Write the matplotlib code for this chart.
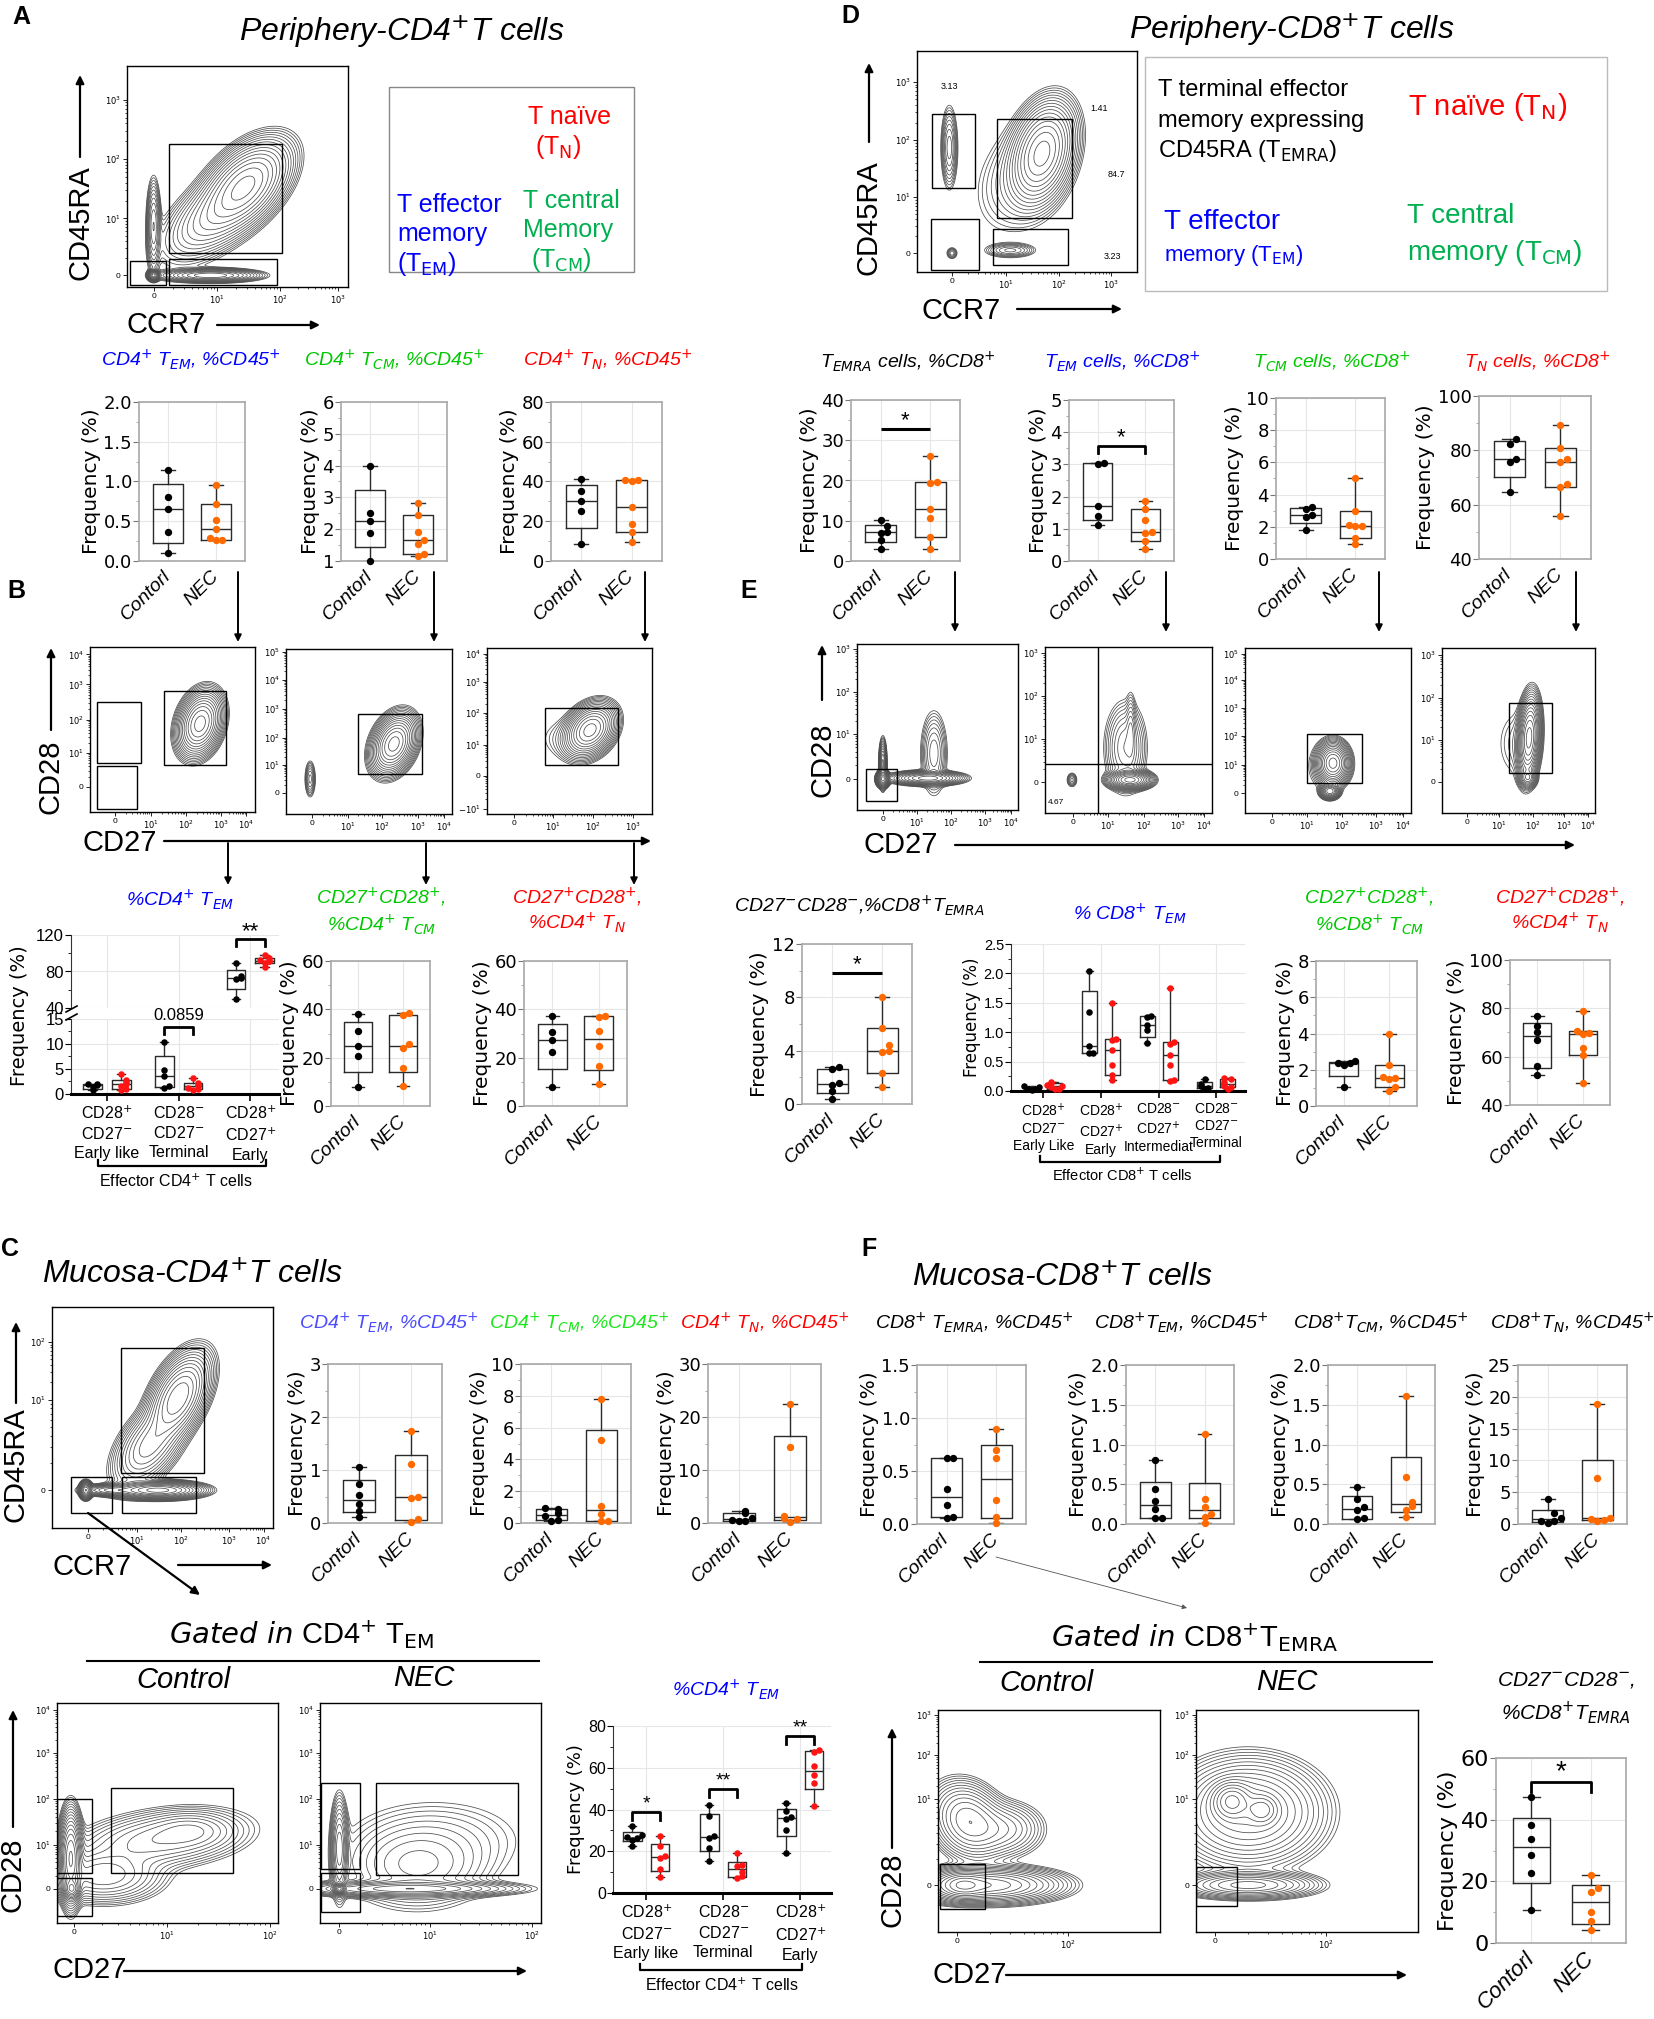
import numpy as np
import matplotlib
matplotlib.use("Agg")
from matplotlib import pyplot as plt
from matplotlib.patches import Rectangle
from matplotlib.ticker import AutoMinorLocator, FixedLocator

plt.rcParams["font.family"] = ["Liberation Sans Narrow", "Liberation Sans", "DejaVu Sans"]
plt.rcParams["mathtext.fontset"] = "custom"
plt.rcParams["mathtext.rm"] = "Liberation Sans Narrow"
plt.rcParams["mathtext.it"] = "Liberation Sans Narrow:italic"
plt.rcParams["mathtext.bf"] = "Liberation Sans Narrow:bold"

RED = "#ff0000"
BLUE = "#0000ff"
GREEN = "#00c800"
LEG_GREEN = "#00b050"
PALE_BLUE = "#4b4bff"
PALE_GREEN = "#1ee61e"
ORANGE = "#ff6a00"
NEC_RED = "#ff1414"
WIDE = ["Liberation Sans", "DejaVu Sans"]
ROUND = ["DejaVu Sans"]

# ---------------- box plot data (frequency, %) ----------------
# A: periphery CD4+, %CD45+
A_TEM_CTRL = [1.14, 0.80, 0.66, 0.36, 0.10]
A_TEM_NEC = [0.95, 0.72, 0.52, 0.40, 0.29, 0.27, 0.26]
A_TCM_CTRL = [3.98, 2.50, 2.26, 1.88, 1.00]
A_TCM_NEC = [2.83, 2.45, 1.90, 1.66, 1.55, 1.22, 1.17]
A_TN_CTRL = [41.4, 35.0, 30.0, 25.0, 8.7]
A_TN_NEC = [41.0, 40.6, 40.2, 27.0, 18.7, 14.8, 9.5]

# B: CD27/CD28 subsets of periphery CD4+
B_GROUP_LABELS = ["CD28$^{+}$\nCD27$^{-}$\nEarly like", "CD28$^{-}$\nCD27$^{-}$\nTerminal",
                  "CD28$^{+}$\nCD27$^{+}$\nEarly"]
B_TEM_CTRL = [[2.0, 1.9, 1.7, 1.3, 0.8], [10.4, 4.8, 3.5, 1.5, 1.1], [89, 75, 73, 72, 50]]
B_TEM_NEC = [[4.0, 2.7, 2.3, 1.9, 1.5, 1.0, 0.8], [3.1, 2.2, 1.8, 1.5, 1.2, 0.9, 0.8],
             [98, 95, 93, 92, 91, 89, 85]]
B_TCM_CTRL = [38.2, 31.1, 24.8, 20.5, 7.9]
B_TCM_NEC = [38.5, 37.6, 25.5, 24.1, 15.8, 8.2]
B_TN_CTRL = [37.4, 30.8, 27.2, 22.5, 7.9]
B_TN_NEC = [37.2, 37.0, 31.0, 24.8, 16.6, 9.0]

# D: periphery CD8+, %CD8+
D_TEMRA_CTRL = [10.2, 8.6, 7.3, 6.9, 5.2, 3.0]
D_TEMRA_NEC = [26.2, 19.7, 19.3, 12.9, 10.7, 6.0, 3.1]
D_TEM_CTRL = [3.04, 3.02, 1.70, 1.40, 1.13]
D_TEM_NEC = [1.85, 1.63, 1.27, 0.89, 0.87, 0.63, 0.36]
D_TCM_CTRL = [3.2, 3.1, 2.74, 2.6, 1.83]
D_TCM_NEC = [5.05, 2.98, 2.12, 2.08, 2.02, 1.30, 0.95]
D_TN_CTRL = [84.1, 82.5, 76.7, 75.7, 64.7]
D_TN_NEC = [89.2, 81.0, 76.7, 75.6, 67.5, 66.5, 55.8]

# E: CD27/CD28 subsets of periphery CD8+
E_TEMRA_CTRL = [2.8, 2.6, 1.6, 1.4, 0.95, 0.4]
E_TEMRA_NEC = [8.0, 5.7, 4.4, 4.0, 3.9, 2.3, 1.3]
E_GROUP_LABELS = ["CD28$^{+}$\nCD27$^{-}$\nEarly Like", "CD28$^{+}$\nCD27$^{+}$\nEarly",
                  "CD28$^{-}$\nCD27$^{+}$\nIntermediat", "CD28$^{-}$\nCD27$^{-}$\nTerminal"]
E_TEM_CTRL = [[0.08, 0.06, 0.04, 0.03, 0.02], [2.04, 1.35, 0.77, 0.65, 0.64],
              [1.28, 1.26, 1.13, 1.03, 0.82], [0.20, 0.12, 0.08, 0.05, 0.04]]
E_TEM_NEC = [[0.16, 0.14, 0.10, 0.08, 0.06, 0.04, 0.03], [1.50, 0.89, 0.86, 0.69, 0.44, 0.28, 0.18],
             [1.75, 0.84, 0.80, 0.61, 0.45, 0.18, 0.17], [0.22, 0.20, 0.15, 0.12, 0.08, 0.06, 0.04]]
E_TCM_CTRL = [2.5, 2.4, 2.36, 2.25, 1.03]
E_TCM_NEC = [3.98, 2.25, 1.62, 1.56, 1.50, 1.05, 0.82]
E_TN_CTRL = [76.8, 72.7, 70.0, 66.8, 56.1, 52.3]
E_TN_NEC = [79.0, 70.5, 69.8, 69.2, 63.4, 60.5, 49.2]

# C: mucosa CD4+, %CD45+
C_TEM_CTRL = [1.05, 0.74, 0.53, 0.35, 0.23, 0.12]
C_TEM_NEC = [1.74, 1.12, 0.50, 0.48, 0.075, 0.01]
C_TCM_CTRL = [0.95, 0.88, 0.60, 0.45, 0.20, 0.15]
C_TCM_NEC = [7.8, 5.2, 1.09, 0.55, 0.12, 0.10]
C_TN_CTRL = [2.2, 1.9, 1.0, 0.5, 0.3, 0.3]
C_TN_NEC = [22.4, 14.3, 1.26, 0.94, 0.75, 0.12]
C_GROUP_LABELS = ["CD28$^{+}$\nCD27$^{-}$\nEarly like", "CD28$^{-}$\nCD27$^{-}$\nTerminal",
                  "CD28$^{+}$\nCD27$^{+}$\nEarly"]
C_SUB_CTRL = [[32.3, 27.9, 26.8, 26.3, 25.5, 22.3], [42.2, 36.7, 27.5, 26.5, 21.5, 15.1],
              [43.0, 39.5, 36.5, 35.3, 30.3, 19.1]]
C_SUB_NEC = [[27.1, 22.3, 17.5, 16.9, 11.5, 7.5], [19.1, 13.5, 12.7, 9.9, 8.0, 7.2],
             [68.5, 67.7, 60.6, 56.6, 52.6, 41.8]]

# F: mucosa CD8+, %CD45+
F_TEMRA_CTRL = [0.62, 0.62, 0.33, 0.18, 0.07, 0.06]
F_TEMRA_NEC = [0.90, 0.70, 0.62, 0.23, 0.07, 0.01]
F_TEM_CTRL = [0.80, 0.44, 0.29, 0.19, 0.08, 0.07]
F_TEM_NEC = [1.13, 0.31, 0.22, 0.12, 0.09, 0.01]
F_TCM_CTRL = [0.46, 0.32, 0.21, 0.17, 0.07, 0.06]
F_TCM_NEC = [1.61, 0.59, 0.28, 0.23, 0.17, 0.09]
F_TN_CTRL = [4.0, 1.7, 0.9, 0.55, 0.4, 0.2]
F_TN_NEC = [18.9, 7.2, 0.95, 0.85, 0.65, 0.5]
F_SUB_CTRL = [47.3, 38.3, 33.6, 28.5, 22.6, 10.6]
F_SUB_NEC = [22.0, 17.7, 16.6, 10.1, 7.0, 4.1]

# ---------------- flow plots (decade units) ----------------
DEC = ["0", "$10^{1}$", "$10^{2}$", "$10^{3}$", "$10^{4}$", "$10^{5}$"]
# blobs: (centre x, centre y, sd x, sd y, correlation, peak)
# gates: (x0, x1, y0, y1)
FA_LIM = ((-0.42, 3.07), (-0.2, 3.6))
FA_XT, FA_YT = [0, 1, 2, 2.91], [0, 0.98, 2.0, 3.02]
FA_BLOBS = [(1.45, 1.55, 0.3, 0.33, 0.5, 1.0), (1.0, 1.05, 0.38, 0.36, 0.6, 0.3),
            (0.0, 0.85, 0.05, 0.35, 0.0, 0.2), (0.9, 0.0, 0.33, 0.05, 0.0, 0.5),
            (0.0, 0.0, 0.04, 0.04, 0.0, 0.8)]
FA_GATES = [(0.24, 2.03, 0.38, 2.26), (-0.38, 0.2, -0.16, 0.24), (0.24, 1.95, -0.17, 0.28)]

FD_LIM = ((-0.66, 3.49), (-0.33, 3.54))
FD_XT, FD_YT = [0, 1.02, 2.02, 3.0], [0, 0.98, 1.98, 3.0]
FD_BLOBS = [(1.7, 1.75, 0.26, 0.38, 0.3, 1.0), (1.35, 1.35, 0.45, 0.5, 0.3, 0.05),
            (-0.05, 1.85, 0.07, 0.32, 0.0, 0.12), (1.1, 0.05, 0.22, 0.06, 0.0, 0.08),
            (0.0, 0.0, 0.05, 0.05, 0.0, 0.05)]
FD_GATES = [(-0.38, 0.43, 1.14, 2.44), (0.85, 2.26, 0.61, 2.35), (-0.4, 0.51, -0.3, 0.6),
            (0.77, 2.19, -0.21, 0.42)]
FD_PCT = [("3.13", -0.04, 2.91), ("1.41", 2.77, 2.54), ("84.7", 3.11, 1.37), ("3.23", 3.02, -0.05)]

FB1_LIM = ((-0.71, 4.0), (-0.74, 4.1))
FB1_XT, FB1_YT = [0, 1.03, 2.03, 3.03, 3.74], [0, 1.0, 1.97, 3.0, 3.88]
FB1_BLOBS = [(2.43, 1.85, 0.27, 0.4, 0.25, 1.0)]
FB1_GATES = [(1.4, 3.17, 0.65, 2.8), (-0.51, 0.74, 0.71, 2.5), (-0.51, 0.63, -0.65, 0.62)]

FB2_LIM = ((-0.74, 4.0), (-0.75, 5.14))
FB2_XT, FB2_YT = [0, 1.03, 2.0, 3.03, 3.77], [0, 1.0, 1.96, 3.0, 4.04, 5.04]
FB2_BLOBS = [(2.34, 1.75, 0.27, 0.45, 0.3, 1.0), (-0.05, 0.5, 0.07, 0.3, 0.0, 0.08)]
FB2_GATES = [(1.31, 3.14, 0.68, 2.82)]

FB3_LIM = ((-0.68, 3.45), (-1.23, 4.13))
FB3_XT, FB3_YT = [0, 0.98, 1.98, 2.98], [-1.06, 0, 1.0, 2.03, 3.03, 3.94]
FB3_BLOBS = [(1.9, 1.48, 0.27, 0.36, 0.3, 1.0), (1.4, 1.2, 0.45, 0.4, 0.0, 0.02)]
FB3_GATES = [(0.78, 2.6, 0.35, 2.19)]

FE1_LIM = ((-0.76, 3.97), (-0.72, 3.14))
FE1_XT, FE1_YT = [0, 1, 2, 3, 3.76], [0, 1.05, 2.02, 3.02]
FE1_BLOBS = [(0.0, 0.0, 0.08, 0.08, 0.0, 1.0), (0.0, 0.35, 0.05, 0.25, 0.0, 0.3),
             (1.3, 0.02, 0.45, 0.07, 0.0, 0.6), (1.5, 0.6, 0.18, 0.45, 0.0, 0.1)]
FE1_GATES = [(-0.5, 0.41, -0.51, 0.23)]

FE2_LIM = ((-0.8, 3.97), (-0.72, 3.14))
FE2_XT, FE2_YT = [0, 1, 2.03, 3, 3.74], [0, 1, 2, 3]
FE2_BLOBS = [(1.63, 0.05, 0.26, 0.09, 0.0, 1.0), (1.5, 0.8, 0.28, 0.5, 0.0, 0.1),
             (1.65, 1.2, 0.07, 0.4, 0.0, 0.06), (-0.03, 0.05, 0.07, 0.08, 0.0, 0.06)]
FE2_QUAD = (0.71, 0.42)

FE3_LIM = ((-0.78, 4.03), (-0.71, 5.18))
FE3_XT, FE3_YT = [0, 1.01, 2.03, 3.01, 3.8], [0, 1, 2.04, 3.04, 4.04, 4.96]
FE3_BLOBS = [(1.77, 1.07, 0.2, 0.32, 0.0, 1.0), (1.68, 0.07, 0.12, 0.12, 0.0, 0.6),
             (1.6, 0.9, 0.35, 0.5, 0.0, 0.02)]
FE3_GATES = [(1.01, 2.61, 0.36, 2.1)]

FE4_LIM = ((-0.78, 4.0), (-0.73, 3.15))
FE4_XT, FE4_YT = [0, 1, 2.06, 3.03, 3.78], [0, 0.99, 1.98, 2.99]
FE4_BLOBS = [(1.94, 1.04, 0.15, 0.42, 0.2, 1.0), (1.9, 0.1, 0.12, 0.1, 0.0, 0.3),
             (1.6, 0.9, 0.4, 0.5, 0.0, 0.02)]
FE4_GATES = [(1.31, 2.66, 0.21, 1.86)]

FC_LIM = ((-0.8, 4.1), (-0.51, 2.47))
FC_XT, FC_YT = [0, 1.09, 2.07, 3.13, 3.89], [0, 1.22, 2.0]
FC_BLOBS = [(2.0, 1.25, 0.3, 0.26, 0.5, 1.0), (1.35, 0.6, 0.35, 0.25, 0.5, 0.35),
            (1.55, 0.0, 0.42, 0.05, 0.0, 1.2), (-0.05, 0.0, 0.06, 0.05, 0.0, 1.0),
            (0.5, 0.0, 0.3, 0.035, 0.0, 0.3)]
FC_GATES = [(0.73, 2.56, 0.23, 1.92), (-0.38, 0.53, -0.31, 0.18), (0.76, 2.4, -0.31, 0.18)]

FCS_YLIM = (-0.76, 4.13)
FCS_YT = [0, 0.98, 2.0, 3.02, 3.98]
FCC_XLIM, FCC_XT = (-0.17, 2.08), [0, 0.95, 2.0]
FCC_BLOBS = [(-0.03, 0.7, 0.05, 0.45, 0.0, 1.0), (-0.02, 0.0, 0.04, 0.1, 0.0, 0.8),
             (0.9, 1.1, 0.42, 0.32, 0.3, 0.15), (1.2, 1.3, 0.2, 0.2, 0.0, 0.08),
             (0.3, 0.3, 0.28, 0.28, 0.0, 0.2)]
FCC_GATES = [(-0.17, 0.19, 0.36, 2.0), (-0.17, 0.19, -0.6, 0.24), (0.38, 1.62, 0.36, 2.24)]
FCN_XLIM, FCN_XT = (-0.2, 2.08), [0, 0.93, 1.99]
FCN_BLOBS = [(0.0, 0.0, 0.03, 0.05, 0.0, 3.0), (0.7, 0.0, 0.5, 0.08, 0.0, 1.0),
             (0.0, 0.9, 0.04, 0.5, 0.0, 0.8), (0.8, 0.5, 0.35, 0.45, 0.0, 0.35),
             (1.0, 1.1, 0.5, 0.5, 0.0, 0.1)]
FCN_GATES = [(-0.19, 0.21, 0.44, 2.36), (-0.19, 0.21, -0.51, 0.36), (0.38, 1.84, 0.31, 2.36)]

FFS_LIM = ((-0.34, 3.66), (-1.09, 4.07))
FFS_XT, FFS_YT = [0, 2.0], [0, 2.0, 3.02, 3.95]
FFC_BLOBS = [(0.2, 1.5, 0.3, 0.4, -0.2, 0.5), (0.8, 1.3, 0.35, 0.3, 0.0, 0.2),
             (0.5, 0.0, 0.6, 0.18, 0.0, 1.0), (0.1, 0.0, 0.2, 0.15, 0.0, 0.8)]
FFC_GATES = [(-0.31, 0.5, -0.56, 0.49)]
FFN_BLOBS = [(0.3, 1.95, 0.18, 0.22, 0.0, 1.0), (0.85, 1.75, 0.15, 0.18, 0.0, 0.7),
             (0.6, 1.7, 0.6, 0.55, 0.0, 0.5), (0.6, 0.0, 0.55, 0.14, 0.0, 0.4)]
FFN_GATES = [(-0.34, 0.4, -0.49, 0.42)]

W, H = 1654, 2019
fig = plt.figure(figsize=(W / 100, H / 100), dpi=100)


def axp(x0, y0, x1, y1):
    return fig.add_axes([x0 / W, 1 - y1 / H, (x1 - x0) / W, (y1 - y0) / H])


def box_stats(values):
    v = np.asarray(values, float)
    q1, med, q3 = np.percentile(v, [25, 50, 75], method="weibull")
    return {"med": med, "q1": q1, "q3": q3, "whislo": v.min(), "whishi": v.max(), "fliers": []}


def dot_offsets(vals, tol, dx):
    vals = np.asarray(vals, float)
    offs = np.zeros(len(vals))
    placed = []
    for i in np.argsort(vals):
        k = sum(1 for j in placed if abs(vals[j] - vals[i]) < tol)
        if k:
            offs[i] = ((k + 1) // 2) * dx * (1 if k % 2 else -1)
        placed.append(i)
    return offs


def draw_boxes(ax, groups, positions, colors, width, tol, dx, dot=28, clip=False):
    line = dict(color="#2a2a2a", linewidth=1.0)
    ax.bxp([box_stats(g) for g in groups], positions=positions, widths=width,
           showfliers=False, capwidths=width * 0.45, manage_ticks=False,
           boxprops=line, medianprops=line, whiskerprops=line, capprops=line)
    for vals, pos, col in zip(groups, positions, colors):
        offs = dot_offsets(vals, tol, dx)
        ax.scatter(pos + offs, vals, s=dot, color=col, zorder=3, linewidths=0, clip_on=clip)


def frame_style(ax, tick_size):
    for s in ax.spines.values():
        s.set_color("#a8a8a8")
        s.set_linewidth(1.2)
    ax.grid(True, color="#e6e6e6", lw=0.8)
    ax.set_axisbelow(True)
    ax.yaxis.set_minor_locator(AutoMinorLocator(2))
    ax.tick_params(axis="y", which="major", length=4, width=0.8, color="#777777",
                   labelsize=tick_size, pad=1)
    ax.tick_params(axis="y", which="minor", length=2, width=0.6, color="#999999")
    ax.tick_params(axis="x", length=0, pad=9)
    for t in ax.get_yticklabels():
        t.set_family(ROUND)


def two_group(rect, ctrl, nec, ylim, yticks, fmt, nec_color=ORANGE, tick_size=13,
              label_size=14.5, xlab_size=14):
    ax = axp(*rect)
    span = ylim[1] - ylim[0]
    draw_boxes(ax, [ctrl, nec], [1.0, 2.0], ["black", nec_color], 0.62, 0.035 * span, 0.13)
    ax.set_xlim(0.4, 2.6)
    ax.set_ylim(*ylim)
    ax.set_yticks(yticks)
    ax.set_yticklabels([fmt.format(t) for t in yticks])
    ax.set_xticks([1, 2])
    ax.set_xticklabels(["Contorl", "NEC"], rotation=45, ha="right", va="center",
                       rotation_mode="anchor", fontstyle="italic", fontsize=xlab_size, family=WIDE)
    ax.set_ylabel("Frequency (%)", family=ROUND, fontsize=label_size, labelpad=2)
    frame_style(ax, tick_size)
    return ax


def grouped(rect, ctrl_groups, nec_groups, ylim, yticks, fmt, xlim, off, width,
            tick_size=11, labels=None, xlab_size=11, clip=False, bottom=True, spacing=1.45,
            label_family=None):
    ax = axp(*rect)
    groups, positions, colors = [], [], []
    for i, (c, n) in enumerate(zip(ctrl_groups, nec_groups)):
        groups += [c, n]
        positions += [i - off, i + off]
        colors += ["black", NEC_RED]
    span = ylim[1] - ylim[0]
    draw_boxes(ax, groups, positions, colors, width, 0.03 * span, 0.065, dot=22, clip=clip)
    ax.set_xlim(*xlim)
    ax.set_ylim(*ylim)
    ax.set_yticks(yticks)
    ax.set_yticklabels([fmt.format(t) for t in yticks])
    ax.grid(True, color="#e6e6e6", lw=0.8)
    ax.set_axisbelow(True)
    ax.spines["top"].set_visible(False)
    ax.spines["right"].set_visible(False)
    ax.spines["left"].set_color("#333333")
    ax.yaxis.set_minor_locator(AutoMinorLocator(2))
    ax.tick_params(axis="y", which="major", length=4, width=0.8, labelsize=tick_size, pad=1)
    ax.tick_params(axis="y", which="minor", length=2, width=0.6)
    if bottom:
        ax.spines["bottom"].set_color("black")
        ax.spines["bottom"].set_linewidth(2.2)
        ax.set_xticks(range(len(ctrl_groups)))
        ax.set_xticklabels(labels, fontsize=xlab_size, linespacing=spacing, va="top")
        if label_family:
            for t in ax.get_xticklabels():
                t.set_family(label_family)
        ax.tick_params(axis="x", length=5, width=1.2, pad=3)
    else:
        ax.spines["bottom"].set_visible(False)
        ax.set_xticks(range(len(ctrl_groups)))
        ax.tick_params(axis="x", length=0, labelbottom=False)
    return ax


def minor_between(ticks):
    out = []
    for a, b in zip(ticks[:-1], ticks[1:]):
        out += [a + np.log10(k) * (b - a) for k in range(2, 10)]
    return out


def flow_plot(rect, xlim, ylim, xticks, yticks, blobs, gates, xlabels=None, ylabels=None):
    ax = axp(*rect)
    X, Y = np.meshgrid(np.linspace(*xlim, 420), np.linspace(*ylim, 420))
    Z = np.zeros_like(X)
    for cx, cy, sx, sy, rho, w in blobs:
        u = (X - cx) / sx
        v = (Y - cy) / sy
        Z += w * np.exp(-(u * u - 2 * rho * u * v + v * v) / (2 * (1 - rho * rho)))
    ax.contour(X, Y, Z, levels=Z.max() * np.geomspace(0.008, 0.85, 16),
               colors="#4d4d4d", linewidths=0.55)
    for x0, x1, y0, y1 in gates:
        ax.add_patch(Rectangle((x0, y0), x1 - x0, y1 - y0, fill=False, ec="black", lw=1.0, zorder=3))
    ax.set_xlim(*xlim)
    ax.set_ylim(*ylim)
    ax.set_xticks(xticks)
    ax.set_xticklabels(xlabels if xlabels else DEC[:len(xticks)])
    ax.set_yticks(yticks)
    ax.set_yticklabels(ylabels if ylabels else DEC[:len(yticks)])
    ax.xaxis.set_minor_locator(FixedLocator(minor_between(xticks)))
    ax.yaxis.set_minor_locator(FixedLocator(minor_between(yticks)))
    ax.tick_params(which="major", length=3, width=0.6, labelsize=6, pad=1.5)
    ax.tick_params(which="minor", length=1.5, width=0.5)
    for s in ax.spines.values():
        s.set_linewidth(1.0)
    return ax


def sig(ax, x0, x1, y, s, legs=None, size=16, dy=0.0):
    if legs is None:
        ax.plot([x0, x1], [y, y], color="black", lw=2.2, clip_on=False, solid_capstyle="butt")
    else:
        ax.plot([x0, x0, x1, x1], [legs, y, y, legs], color="black", lw=2.0, clip_on=False)
    ax.text((x0 + x1) / 2, y + dy, s, ha="center", va="baseline", fontsize=size, clip_on=False)


# ---------------- panel A ----------------
flow_plot((127, 66, 348, 287), *FA_LIM, FA_XT, FA_YT, FA_BLOBS, FA_GATES)
two_group((139, 402, 245, 561), A_TEM_CTRL, A_TEM_NEC, (0, 2.0), [0, 0.5, 1.0, 1.5, 2.0], "{:.1f}")
two_group((341, 402, 447, 561), A_TCM_CTRL, A_TCM_NEC, (1, 6), [1, 2, 3, 4, 5, 6], "{:.0f}")
two_group((551, 402, 662, 561), A_TN_CTRL, A_TN_NEC, (0, 80), [0, 20, 40, 60, 80], "{:.0f}")

# ---------------- panel D ----------------
ax_fd = flow_plot((917, 51, 1137, 272), *FD_LIM, FD_XT, FD_YT, FD_BLOBS, FD_GATES)
for s, x, y in FD_PCT:
    ax_fd.text(x, y, s, fontsize=6.5, ha="center", va="center")
ax = two_group((851, 400, 960, 561), D_TEMRA_CTRL, D_TEMRA_NEC, (0, 40), [0, 10, 20, 30, 40], "{:.0f}")
sig(ax, 1.0, 2.0, 32.8, "*", dy=0.8)
ax = two_group((1069, 400, 1174, 561), D_TEM_CTRL, D_TEM_NEC, (0, 5), [0, 1, 2, 3, 4, 5], "{:.0f}")
sig(ax, 1.0, 2.0, 3.57, "*", legs=3.35, dy=0.1)
two_group((1276, 398, 1385, 559), D_TCM_CTRL, D_TCM_NEC, (0, 10), [0, 2, 4, 6, 8, 10], "{:.0f}")
two_group((1479, 396, 1591, 559), D_TN_CTRL, D_TN_NEC, (40, 100), [40, 60, 80, 100], "{:.0f}")

# ---------------- panel B ----------------
flow_plot((90, 647, 255, 812), *FB1_LIM, FB1_XT, FB1_YT, FB1_BLOBS, FB1_GATES)
flow_plot((286, 649, 452, 814), *FB2_LIM, FB2_XT, FB2_YT, FB2_BLOBS, FB2_GATES)
flow_plot((487, 648, 652, 814), *FB3_LIM, FB3_XT, FB3_YT, FB3_BLOBS, FB3_GATES,
          ylabels=["$-10^{1}$", "0", "$10^{1}$", "$10^{2}$", "$10^{3}$", "$10^{4}$"])
ax_top = grouped((71, 935, 279, 1008), B_TEM_CTRL, B_TEM_NEC, (40, 120), [40, 80, 120], "{:.0f}",
                 (-0.5, 2.4), 0.2, 0.26, tick_size=12, clip=True, bottom=False)
sig(ax_top, 1.8, 2.2, 115.6, "**", legs=108, dy=1.5)
ax_bot = grouped((71, 1019, 279, 1094), B_TEM_CTRL, B_TEM_NEC, (0, 15), [0, 5, 10, 15], "{:.0f}",
                 (-0.5, 2.4), 0.2, 0.26, tick_size=12, labels=B_GROUP_LABELS, clip=True,
                 xlab_size=11.5, spacing=1.3)
sig(ax_bot, 0.8, 1.2, 13.4, "0.0859", legs=12.0, size=12, dy=1.4)
ax_bot.set_ylabel("Frequency (%)", family=ROUND, fontsize=14, labelpad=4)
ax_bot.yaxis.set_label_coords(-0.2, 1.05)
two_group((331, 961, 430, 1106), B_TCM_CTRL, B_TCM_NEC, (0, 60), [0, 20, 40, 60], "{:.0f}")
two_group((524, 961, 627, 1106), B_TN_CTRL, B_TN_NEC, (0, 60), [0, 20, 40, 60], "{:.0f}")

# ---------------- panel E ----------------
flow_plot((857, 644, 1018, 810), *FE1_LIM, FE1_XT, FE1_YT, FE1_BLOBS, FE1_GATES)
ax_e2 = flow_plot((1045, 647, 1212, 813), *FE2_LIM, FE2_XT, FE2_YT, FE2_BLOBS, [])
ax_e2.axvline(FE2_QUAD[0], color="black", lw=1.0)
ax_e2.axhline(FE2_QUAD[1], color="black", lw=1.0)
ax_e2.text(-0.49, -0.47, "4.67", fontsize=6, ha="center", va="center")
flow_plot((1245, 648, 1411, 813), *FE3_LIM, FE3_XT, FE3_YT, FE3_BLOBS, FE3_GATES)
flow_plot((1442, 648, 1595, 813), *FE4_LIM, FE4_XT, FE4_YT, FE4_BLOBS, FE4_GATES)
ax = two_group((802, 944, 912, 1104), E_TEMRA_CTRL, E_TEMRA_NEC, (0, 12), [0, 4, 8, 12], "{:.0f}")
sig(ax, 1.0, 2.0, 9.8, "*", dy=0.25)
ax = grouped((1011, 944, 1245, 1091), E_TEM_CTRL, E_TEM_NEC, (0, 2.5), [0, 0.5, 1.0, 1.5, 2.0, 2.5],
             "{:.1f}", (-0.56, 3.5), 0.2, 0.26, tick_size=10.5, labels=E_GROUP_LABELS, xlab_size=10,
             spacing=1.25, label_family=WIDE)
ax.set_ylabel("Frequency (%)", family=ROUND, fontsize=12, labelpad=2)
two_group((1316, 961, 1417, 1106), E_TCM_CTRL, E_TCM_NEC, (0, 8), [0, 2, 4, 6, 8], "{:.0f}")
two_group((1510, 960, 1610, 1105), E_TN_CTRL, E_TN_NEC, (40, 100), [40, 60, 80, 100], "{:.0f}")

# ---------------- panel C ----------------
flow_plot((52, 1307, 273, 1528), *FC_LIM, FC_XT, FC_YT, FC_BLOBS, FC_GATES)
two_group((328, 1364, 442, 1523), C_TEM_CTRL, C_TEM_NEC, (0, 3), [0, 1, 2, 3], "{:.0f}")
two_group((521, 1364, 631, 1523), C_TCM_CTRL, C_TCM_NEC, (0, 10), [0, 2, 4, 6, 8, 10], "{:.0f}")
two_group((708, 1364, 821, 1523), C_TN_CTRL, C_TN_NEC, (0, 30), [0, 10, 20, 30], "{:.0f}")
flow_plot((57, 1703, 278, 1923), FCC_XLIM, FCS_YLIM, FCC_XT, FCS_YT, FCC_BLOBS, FCC_GATES)
flow_plot((320, 1703, 541, 1923), FCN_XLIM, FCS_YLIM, FCN_XT, FCS_YT, FCN_BLOBS, FCN_GATES)
ax = grouped((613, 1726, 831, 1893), C_SUB_CTRL, C_SUB_NEC, (0, 80), [0, 20, 40, 60, 80], "{:.0f}",
             (-0.43, 2.4), 0.18, 0.24, tick_size=11.5, labels=C_GROUP_LABELS, xlab_size=11.5,
             spacing=1.35)
ax.set_ylabel("Frequency (%)", family=ROUND, fontsize=13, labelpad=2)
sig(ax, -0.18, 0.18, 38.9, "*", legs=35, size=14, dy=1.5)
sig(ax, 0.82, 1.18, 49.9, "**", legs=46, size=14, dy=1.5)
sig(ax, 1.82, 2.18, 75.2, "**", legs=71.4, size=14, dy=1.5)

# ---------------- panel F ----------------
two_group((917, 1365, 1026, 1524), F_TEMRA_CTRL, F_TEMRA_NEC, (0, 1.5), [0, 0.5, 1.0, 1.5], "{:.1f}")
two_group((1126, 1365, 1234, 1524), F_TEM_CTRL, F_TEM_NEC, (0, 2.0), [0, 0.5, 1.0, 1.5, 2.0], "{:.1f}")
two_group((1328, 1365, 1435, 1524), F_TCM_CTRL, F_TCM_NEC, (0, 2.0), [0, 0.5, 1.0, 1.5, 2.0], "{:.1f}")
two_group((1518, 1365, 1627, 1524), F_TN_CTRL, F_TN_NEC, (0, 25), [0, 5, 10, 15, 20, 25], "{:.0f}")
flow_plot((938, 1710, 1160, 1932), *FFS_LIM, FFS_XT, FFS_YT, FFC_BLOBS, FFC_GATES,
          xlabels=["0", "$10^{2}$"], ylabels=["0", "$10^{1}$", "$10^{2}$", "$10^{3}$"])
flow_plot((1196, 1710, 1418, 1932), *FFS_LIM, FFS_XT, FFS_YT, FFN_BLOBS, FFN_GATES,
          xlabels=["0", "$10^{2}$"], ylabels=["0", "$10^{1}$", "$10^{2}$", "$10^{3}$"])
ax = two_group((1496, 1758, 1626, 1943), F_SUB_CTRL, F_SUB_NEC, (0, 60), [0, 20, 40, 60], "{:.0f}",
               tick_size=16, label_size=16, xlab_size=16)
sig(ax, 1.0, 2.0, 52.2, "*", legs=49, size=20, dy=1.0)

# ---------------- overlay: titles, labels, arrows ----------------
ov = fig.add_axes([0, 0, 1, 1], zorder=10)
ov.set_xlim(0, W)
ov.set_ylim(H, 0)
ov.axis("off")


def T(x, y, s, size=14, color="black", ha="center", va="center", **kw):
    ov.text(x, y, s, fontsize=size, color=color, ha=ha, va=va, **kw)


def arrow(x0, y0, x1, y1, lw=1.6, color="black", ms=12):
    ov.annotate("", xy=(x1, y1), xytext=(x0, y0),
                arrowprops=dict(arrowstyle="-|>", lw=lw, color=color, mutation_scale=ms,
                                shrinkA=0, shrinkB=0))


for s, x, y in [("A", 21, 17), ("B", 16, 591), ("C", 10, 1249), ("D", 850, 16), ("E", 749, 591),
                ("F", 869, 1249)]:
    T(x, y, s, size=18, weight="bold", family=WIDE)

T(402, 31, "Periphery-CD4$^{+}$T cells", size=23, style="italic")
T(1292, 29, "Periphery-CD8$^{+}$T cells", size=23, style="italic")
T(192, 1275, "Mucosa-CD4$^{+}$T cells", size=23, style="italic")
T(1062, 1278, "Mucosa-CD8$^{+}$T cells", size=23, style="italic")

# flow axis labels
for x, y in [(80, 223), (869, 218), (16, 1465)]:
    T(x, y, "CD45RA", size=21, rotation=90)
for x, y in [(51, 777), (822, 760), (13, 1875), (892, 1890)]:
    T(x, y, "CD28", size=21, rotation=90)
for x, y in [(166, 325), (961, 311), (92, 1567)]:
    T(x, y, "CCR7", size=21)
for x, y in [(120, 843), (901, 845), (90, 1970), (970, 1975)]:
    T(x, y, "CD27", size=21)
arrow(80, 157, 80, 75)
arrow(217, 325, 320, 325)
arrow(869, 142, 869, 63)
arrow(1017, 309, 1122, 309)
arrow(51, 730, 51, 648)
arrow(164, 841, 651, 841)
arrow(822, 700, 822, 645)
arrow(955, 845, 1575, 845)
arrow(16, 1403, 16, 1322)
arrow(178, 1565, 272, 1565)
arrow(88, 1513, 200, 1595)
arrow(13, 1827, 13, 1710)
arrow(124, 1971, 527, 1971)
arrow(892, 1848, 892, 1728)
arrow(1006, 1975, 1407, 1975)
arrow(996, 1557, 1187, 1608, lw=0.6, color="#555555", ms=7)
for x in [238, 434, 645]:
    arrow(x, 572, x, 642, lw=1.4, ms=10)
for x in [228, 426, 634]:
    arrow(x, 843, x, 885, lw=1.4, ms=10)
for x in [955, 1166, 1379, 1576]:
    arrow(x, 572, x, 632, lw=1.4, ms=10)

# legend boxes
ov.add_patch(Rectangle((389, 87), 245, 185, fill=False, ec="#888888", lw=1.0))
ov.add_patch(Rectangle((1145, 57), 462, 234, fill=False, ec="#bbbbbb", lw=1.0))
T(528, 117, "T naïve", 18, RED, ha="left")
T(535, 147, "(T$_{\\mathrm{N}}$)", 18, RED, ha="left")
T(397, 205, "T effector", 18, BLUE, ha="left")
T(397, 234, "memory", 18, BLUE, ha="left")
T(397, 264, "(T$_{\\mathrm{EM}}$)", 18, BLUE, ha="left")
T(523, 201, "T central", 18, LEG_GREEN, ha="left")
T(523, 230, "Memory", 18, LEG_GREEN, ha="left")
T(531, 260, "(T$_{\\mathrm{CM}}$)", 18, LEG_GREEN, ha="left")
T(1158, 90, "T terminal effector", 17, ha="left")
T(1158, 121, "memory expressing", 17, ha="left")
T(1158, 151, "CD45RA (T$_{\\mathrm{EMRA}}$)", 17, ha="left")
T(1408, 107, "T naïve (T$_{\\mathrm{N}}$)", 21, RED, ha="left")
T(1164, 222, "T effector", 20, BLUE, ha="left")
T(1164, 256, "memory (T$_{\\mathrm{EM}}$)", 16, BLUE, ha="left")
T(1407, 216, "T central", 20, LEG_GREEN, ha="left")
T(1407, 253, "memory (T$_{\\mathrm{CM}}$)", 20, LEG_GREEN, ha="left")

# box plot titles
it = dict(style="italic")
T(191, 360, "CD4$^{+}$ T$_{EM}$, %CD45$^{+}$", 14, BLUE, **it)
T(394, 360, "CD4$^{+}$ T$_{CM}$, %CD45$^{+}$", 14, GREEN, **it)
T(608, 360, "CD4$^{+}$ T$_{N}$, %CD45$^{+}$", 14, RED, **it)
T(908, 362, "T$_{EMRA}$ cells, %CD8$^{+}$", 14, **it)
T(1122, 362, "T$_{EM}$ cells, %CD8$^{+}$", 14, BLUE, **it)
T(1332, 362, "T$_{CM}$ cells, %CD8$^{+}$", 14, GREEN, **it)
T(1537, 362, "T$_{N}$ cells, %CD8$^{+}$", 14, RED, **it)
T(180, 900, "%CD4$^{+}$ T$_{EM}$", 14, BLUE, **it)
T(381, 897, "CD27$^{+}$CD28$^{+}$,", 14, GREEN, **it)
T(381, 925, "%CD4$^{+}$ T$_{CM}$", 14, GREEN, **it)
T(577, 897, "CD27$^{+}$CD28$^{+}$,", 14, RED, **it)
T(577, 923, "%CD4$^{+}$ T$_{N}$", 14, RED, **it)
T(859, 906, "CD27$^{-}$CD28$^{-}$,%CD8$^{+}$T$_{EMRA}$", 14, **it)
T(1130, 914, "% CD8$^{+}$ T$_{EM}$", 14, BLUE, **it)
T(1369, 897, "CD27$^{+}$CD28$^{+}$,", 14, GREEN, **it)
T(1369, 925, "%CD8$^{+}$ T$_{CM}$", 14, GREEN, **it)
T(1560, 897, "CD27$^{+}$CD28$^{+}$,", 14, RED, **it)
T(1560, 923, "%CD4$^{+}$ T$_{N}$", 14, RED, **it)
T(389, 1323, "CD4$^{+}$ T$_{EM}$, %CD45$^{+}$", 14, PALE_BLUE, **it)
T(579, 1323, "CD4$^{+}$ T$_{CM}$, %CD45$^{+}$", 14, PALE_GREEN, **it)
T(765, 1323, "CD4$^{+}$ T$_{N}$, %CD45$^{+}$", 14, RED, **it)
T(974, 1323, "CD8$^{+}$ T$_{EMRA}$, %CD45$^{+}$", 14, **it)
T(1181, 1323, "CD8$^{+}$T$_{EM}$, %CD45$^{+}$", 14, **it)
T(1381, 1323, "CD8$^{+}$T$_{CM}$, %CD45$^{+}$", 14, **it)
T(1572, 1323, "CD8$^{+}$T$_{N}$, %CD45$^{+}$", 14, **it)
T(726, 1690, "%CD4$^{+}$ T$_{EM}$", 14, BLUE, **it)
T(1566, 1680, "CD27$^{-}$CD28$^{-}$,", 15, **it)
T(1566, 1713, "%CD8$^{+}$T$_{EMRA}$", 15, **it)

# group brackets under the subset plots
for x0, x1, y, tx, ty, s, fam in [(98, 266, 1166, 176, 1181, "Effector CD4$^{+}$ T cells", None),
                                   (1040, 1220, 1162, 1122, 1175, "Effector CD8$^{+}$ T cells", WIDE),
                                   (640, 802, 1970, 722, 1985, "Effector CD4$^{+}$ T cells", None)]:
    ov.plot([x0, x0, x1, x1], [y - 6, y, y, y - 6], color="black", lw=1.6)
    if fam:
        T(tx, ty, s, 10.5, family=fam)
    else:
        T(tx, ty, s, 11.5)
# axis break marks
ov.plot([66, 77], [1012, 1006], color="black", lw=1.2)
ov.plot([66, 77], [1020, 1014], color="black", lw=1.2)

# gated headers
T(302, 1635, "$\\mathit{Gated\\ in}$ CD4$^{+}$ T$_{\\mathrm{EM}}$", 21)
T(1195, 1638, "$\\mathit{Gated\\ in}$ CD8$^{+}$T$_{\\mathrm{EMRA}}$", 21)
ov.plot([87, 539], [1661, 1661], color="black", lw=1.5)
ov.plot([980, 1432], [1662, 1662], color="black", lw=1.5)
T(183, 1680, "Control", 21, **it)
T(424, 1678, "NEC", 21, **it)
T(1046, 1683, "Control", 21, **it)
T(1287, 1682, "NEC", 21, **it)

fig.savefig("out.png", dpi=100)
